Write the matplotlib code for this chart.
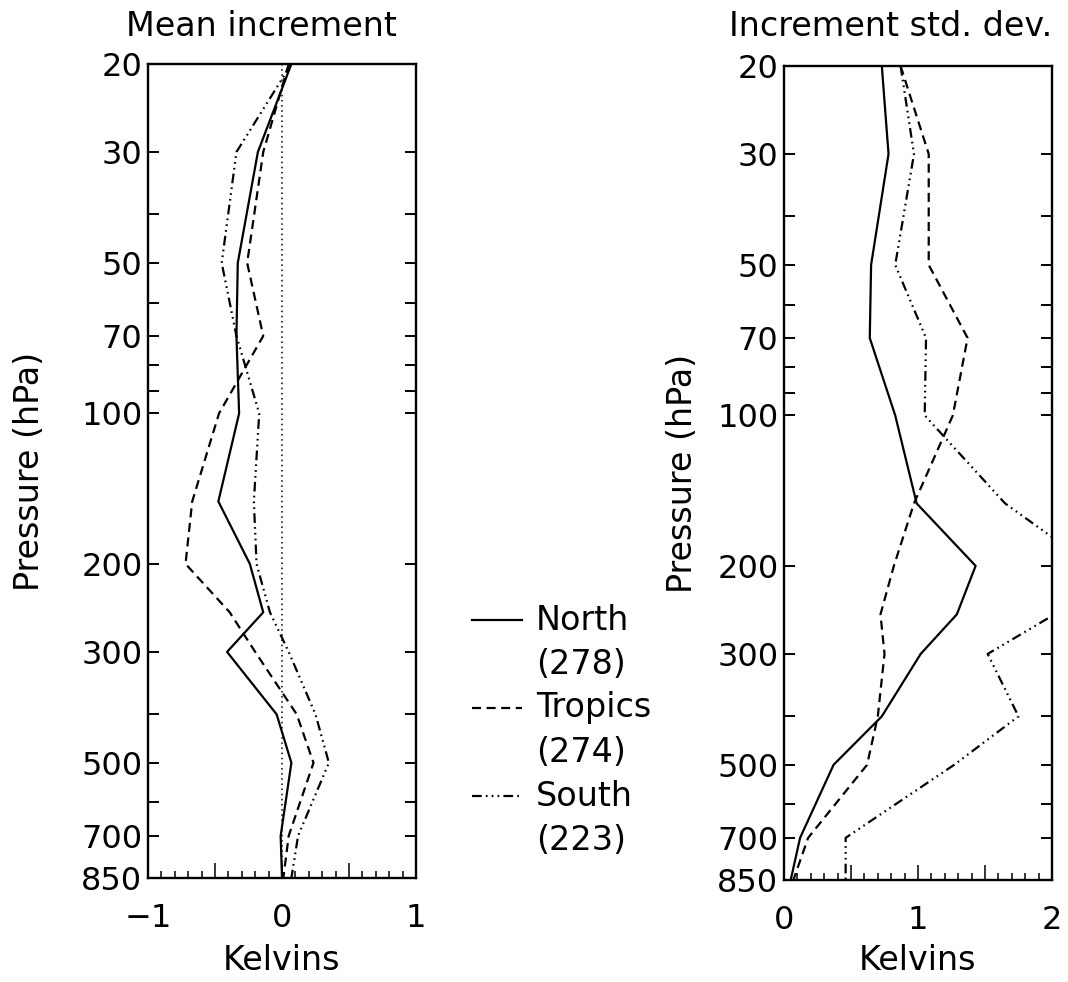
import matplotlib
matplotlib.use("Agg")
import matplotlib.pyplot as plt
from matplotlib.lines import Line2D
from matplotlib.ticker import FixedLocator, MultipleLocator, FuncFormatter, NullFormatter

plt.rcParams['font.family'] = ['DejaVu Sans']
plt.rcParams['lines.scale_dashes'] = False

# ---------------- data ----------------
levels = [20, 30, 50, 70, 100, 150, 200, 250, 300, 400, 500, 700, 850]

north_mean = [0.07, -0.18, -0.33, -0.34, -0.32, -0.475, -0.24, -0.14, -0.41, -0.04, 0.07, -0.01, 0.0]
tropics_mean = [0.05, -0.14, -0.26, -0.14, -0.47, -0.67, -0.72, -0.39, -0.20, 0.11, 0.235, 0.05, 0.01]
south_mean = [0.07, -0.34, -0.45, -0.34, -0.17, -0.21, -0.19, -0.09, 0.05, 0.25, 0.35, 0.12, 0.07]

north_sd = [0.73, 0.78, 0.65, 0.64, 0.83, 0.99, 1.43, 1.29, 1.02, 0.73, 0.37, 0.12, 0.05]
tropics_sd = [0.87, 1.08, 1.08, 1.37, 1.26, 0.97, 0.82, 0.72, 0.75, 0.70, 0.62, 0.18, 0.07]
south_sd = [0.87, 0.97, 0.83, 1.06, 1.05, 1.65, 2.30, 2.02, 1.52, 1.75, 1.27, 0.46, 0.46]

series_names = ["North", "Tropics", "South"]
series_counts = ["(278)", "(274)", "(223)"]

major_p = [20, 30, 50, 70, 100, 200, 300, 500, 700, 850]
minor_p = [40, 60, 80, 90, 400, 600]

titles = ["Mean increment", "Increment std. dev."]
xlabel = "Kelvins"
ylabel = "Pressure (hPa)"

# ---------------- styles ----------------
W, H = 1068, 982
FS = 24
TFS = 23
LW = 1.6
styles = [
    dict(color='black', lw=LW, linestyle='-'),
    dict(color='black', lw=LW, linestyle=(0, (6.5, 4.0))),
    dict(color='black', lw=LW, linestyle=(0, (7.0, 3.0, 1.2, 3.0, 1.2, 3.0, 1.2, 3.0))),
]

fig = plt.figure(figsize=(W / 100, H / 100), dpi=100)


def px_box(x0, x1, ytop, ybot):
    return [x0 / W, 1 - ybot / H, (x1 - x0) / W, (ybot - ytop) / H]


ax1 = fig.add_axes(px_box(148, 416, 64, 878))
ax2 = fig.add_axes(px_box(784, 1052, 66, 880))


def style_axis(ax, xlim):
    ax.set_yscale('log')
    ax.set_ylim(850, 20)
    ax.set_xlim(*xlim)
    ax.yaxis.set_major_locator(FixedLocator(major_p))
    ax.yaxis.set_major_formatter(FuncFormatter(lambda v, p: f"{int(round(v))}"))
    ax.yaxis.set_minor_locator(FixedLocator(minor_p))
    ax.yaxis.set_minor_formatter(NullFormatter())
    ax.xaxis.set_major_locator(MultipleLocator(0.5))
    ax.xaxis.set_minor_locator(MultipleLocator(0.1))

    def xfmt(v, p):
        if abs(v - round(v)) < 1e-6:
            return f"{int(round(v))}".replace('-', '\u2212')
        return ""
    ax.xaxis.set_major_formatter(FuncFormatter(xfmt))
    ax.tick_params(axis='y', which='both', direction='in', left=True, right=True,
                   length=8, width=1.4, labelsize=TFS, pad=4)
    ax.tick_params(axis='x', which='major', direction='in', top=False, bottom=True,
                   length=11, width=1.1, labelsize=TFS, pad=18)
    ax.tick_params(axis='x', which='minor', direction='in', top=False, bottom=True,
                   length=5, width=1.1)
    for s in ax.spines.values():
        s.set_linewidth(1.7)


style_axis(ax1, (-1, 1))
style_axis(ax2, (0, 2))

# zero reference line
ax1.plot([0, 0], [levels[0], levels[-1]], color='black', lw=1.1, linestyle=(0, (1.1, 2.6)))

for vals, st in zip([north_mean, tropics_mean, south_mean], styles):
    ax1.plot(vals, levels, **st)
for vals, st in zip([north_sd, tropics_sd, south_sd], styles):
    ax2.plot(vals, levels, **st)

# axis labels
for ax, ybot, ylx, x0 in [(ax1, 878, 30, 148), (ax2, 880, 683, 784)]:
    ax.set_xlabel(xlabel, fontsize=FS, va='baseline')
    ax.xaxis.set_label_coords(0.5, (ybot - 970) / 814)
    ax.set_ylabel(ylabel, fontsize=FS, va='center')
    ax.yaxis.set_label_coords((ylx - x0) / 268, 0.5)

# titles
fig.text(261 / W, 1 - 36 / H, titles[0], fontsize=FS, ha='center', va='baseline')
fig.text(891 / W, 1 - 36 / H, titles[1], fontsize=FS, ha='center', va='baseline')

# legend (manual)
leg_y = [620, 664, 708, 752, 796, 840]
for i, (name, cnt, st) in enumerate(zip(series_names, series_counts, styles)):
    yl = 1 - leg_y[2 * i] / H
    fig.add_artist(Line2D([472 / W, 522 / W], [yl, yl], transform=fig.transFigure, **st))
    fig.text(536 / W, yl, name, fontsize=FS, ha='left', va='center')
    fig.text(536 / W, 1 - leg_y[2 * i + 1] / H, cnt, fontsize=FS, ha='left', va='center')

fig.savefig("out.png", dpi=100)
